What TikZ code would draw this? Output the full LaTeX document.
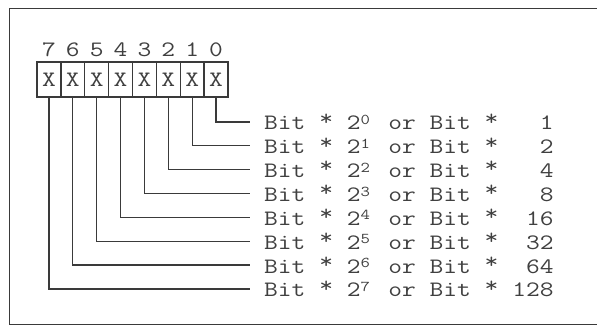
\documentclass[tikz,border=0pt]{standalone}
\usepackage{graphicx}
\definecolor{ink}{HTML}{3A3A3A}
\definecolor{txt}{HTML}{404040}
\newcommand\mono[1]{\scalebox{1.215}[1]{\fontsize{22}{24}\selectfont\ttfamily #1}}
\newcommand\myast{\raisebox{0.22em}{*}}
\newcommand\bitline[2]{\mono{Bit \myast{} 2\makebox[0.525em][l]{\raisebox{5.5pt}{\fontsize{15}{15}\selectfont #1}} or Bit \myast{} #2}}
\begin{document}
\begin{tikzpicture}[x=1pt,y=-1pt,
  frame/.style={draw=ink,line width=1.8pt},
  conn/.style={draw=ink,line width=1.3pt},
  bitbox/.style={draw=ink,line width=1.3pt,minimum width=23.875pt,minimum height=35pt,inner sep=0pt,text=txt},
  lbl/.style={inner sep=0pt,anchor=base,text=txt},
  eqn/.style={inner sep=0pt,anchor=base west,text=txt}]
\useasboundingbox (0,0) rectangle (597,326);
\fill[white] (0,0) rectangle (597,326);
% frame (open on the right)
\draw[frame] (597,8.5) -- (9.5,8.5) -- (9.5,324.5) -- (597,324.5);
% bit boxes: box i from left holds bit 7-i
\foreach \i in {0,...,7}{
  \pgfmathtruncatemacro\b{7-\i}
  \pgfmathsetmacro\cx{37+23.875*(\i+0.5)}
  \node[bitbox] (b\b) at (\cx,79.5) {};
  \node[lbl] (x\b) at (\cx,87) {\mono{X}};
  \node[lbl] (n\b) at (\cx,57) {\mono{\b}};
}
% equations
\node[eqn] (t0) at (264,130) {\bitline{0}{\phantom{12}1}};
\node[eqn] (t1) at (264,153.85) {\bitline{1}{\phantom{12}2}};
\node[eqn] (t2) at (264,177.7) {\bitline{2}{\phantom{12}4}};
\node[eqn] (t3) at (264,201.55) {\bitline{3}{\phantom{12}8}};
\node[eqn] (t4) at (264,225.4) {\bitline{4}{\phantom{1}16}};
\node[eqn] (t5) at (264,249.25) {\bitline{5}{\phantom{1}32}};
\node[eqn] (t6) at (264,273.1) {\bitline{6}{\phantom{1}64}};
\node[eqn] (t7) at (264,296.95) {\bitline{7}{128}};
% connector end points
\foreach \b in {0,...,7}{
  \coordinate (e\b) at (250,122+23.85*\b);
  \draw[conn] (b\b.south) |- (e\b);
}
\end{tikzpicture}
\end{document}
